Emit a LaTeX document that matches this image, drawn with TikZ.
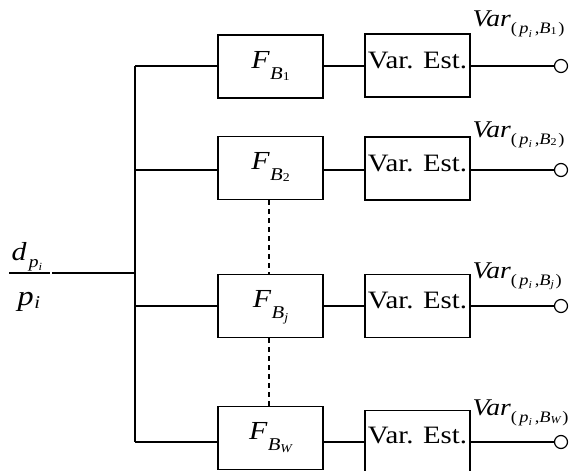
\documentclass[tikz,border=0pt]{standalone}
\usepackage{fontspec}
\usepackage{graphicx}
\setmainfont{Liberation Serif}

% horizontally widened text, as in the typeset block labels
\newcommand\hx[1]{\scalebox{1.15}[1]{#1}}
\newcommand\fs[1]{\fontsize{#1}{#1}\selectfont}
% filter block label F_{B_k}
\newcommand\Flab[2]{\hx{\fs{26}\itshape F\kern0.5pt\raisebox{-11pt}{\fs{18}B\raisebox{#2}{\fs{12}#1}}}}
% output label Var_{(p_i,B_k)}
\newcommand\Vlab[2]{\hx{\fs{24}\itshape Var\raisebox{-7pt}{\fs{16}\upshape(\kern2pt\itshape p\raisebox{-3pt}{\fs{10.5}i}\kern2.5pt\upshape,\itshape B\raisebox{#2}{\fs{10.5}#1}\kern1.5pt\upshape)}}}

\begin{document}
\begin{tikzpicture}[x=1pt,y=-1pt,line width=1.2pt,
  filt/.style={draw,minimum width=105pt,minimum height=63pt,inner sep=0pt,
    text height=18pt,text depth=15pt},
  est/.style={draw,minimum width=105pt,minimum height=63pt,inner sep=0pt,
    text height=16.5pt,text depth=11pt},
  est2/.style={est,minimum height=61pt},
  port/.style={draw,circle,minimum size=13pt,inner sep=0pt,fill=white},
  lab/.style={anchor=base west,inner sep=0pt},
  dotted link/.style={dash pattern=on 5pt off 4pt}]
\useasboundingbox (0,0) rectangle (573,471);

% input signal d_{p_i}/p_i
\node[lab] (num) at (11,260) {\hx{\fs{26}\itshape d\kern2pt\raisebox{-7pt}{\fs{17}p\raisebox{-3pt}{\fs{11}i}}}};
\node[lab] (den) at (17,305) {\hx{\fs{28}\itshape p\kern0.5pt\raisebox{-3pt}{\fs{18}i}}};
\coordinate (barL) at (9,273);
\coordinate (barR) at (50,273);
\draw (barL) -- (barR);
\coordinate (in) at (52,273);

% distribution bus
\coordinate (b1) at (135,66);
\coordinate (b2) at (135,170);
\coordinate (b3) at (135,306);
\coordinate (b4) at (135,442);

% filter bank
\node[filt] (f1) at (270.5,66.5) {\Flab{\upshape 1}{-1pt}};
\node[filt] (f2) at (270.5,168) {\Flab{\upshape 2}{-1pt}};
\node[filt] (f3) at (270.5,306) {\Flab{\itshape j}{-3pt}};
\node[filt] (f4) at (270.5,438) {\Flab{\itshape W}{-2pt}};

% variance estimators
\node[est] (v1) at (417.5,65.5) {\hx{\fs{25}Var. Est.}};
\node[est] (v2) at (417.5,168.5) {\hx{\fs{25}Var. Est.}};
\node[est] (v3) at (417.5,306) {\hx{\fs{25}Var. Est.}};
\node[est2] (v4) at (417.5,441) {\hx{\fs{25}Var. Est.}};

% output ports
\node[port] (o1) at (561,66) {};
\node[port] (o2) at (561,170) {};
\node[port] (o3) at (561,306) {};
\node[port] (o4) at (561,442) {};

% output labels
\node[lab] (l1) at (472,27) {\Vlab{\upshape 1}{-1pt}};
\node[lab] (l2) at (472,137) {\Vlab{\upshape 2}{-1pt}};
\node[lab] (l3) at (472,278) {\Vlab{\itshape j}{-2.5pt}};
\node[lab] (l4) at (472,415) {\Vlab{\itshape W}{-1.5pt}};

% wiring
\draw (in) -- (in -| b1);
\draw (b1) -- (b4);
\foreach \k in {1,2,3,4}{
  \draw (b\k) -- (b\k -| f\k.west);
  \draw (f\k.east |- b\k) -- (v\k.west |- b\k);
  \draw (v\k.east |- o\k) -- (o\k.west);
}
\draw[dotted link] ([xshift=-1.5pt]f2.south) -- ([xshift=-1.5pt]f3.north);
\draw[dotted link] ([xshift=-1.5pt]f3.south) -- ([xshift=-1.5pt]f4.north);
\end{tikzpicture}
\end{document}
